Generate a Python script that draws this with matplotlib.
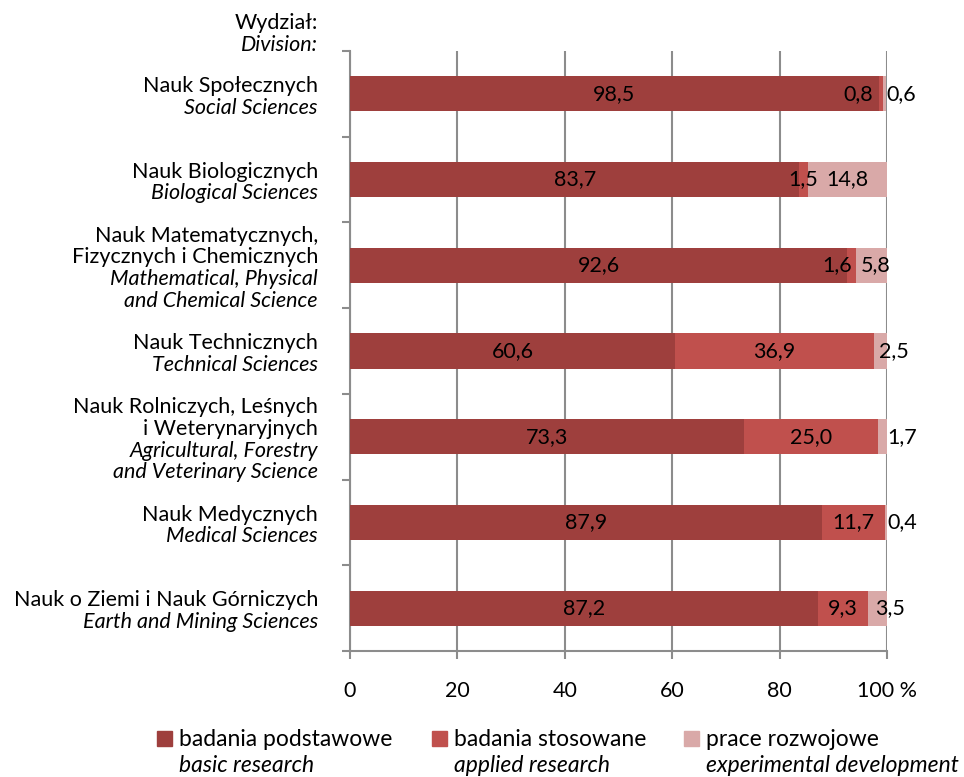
import matplotlib
matplotlib.use("Agg")
import matplotlib.pyplot as plt
from matplotlib.patches import Rectangle

plt.rcParams['font.family'] = ['Lato', 'DejaVu Sans']

# Divisions: Polish name lines, English name lines
divisions_pl = [
    ["Nauk Społecznych"],
    ["Nauk Biologicznych"],
    ["Nauk Matematycznych,", "Fizycznych i Chemicznych"],
    ["Nauk Technicznych"],
    ["Nauk Rolniczych, Leśnych", "i Weterynaryjnych"],
    ["Nauk Medycznych"],
    ["Nauk o Ziemi i Nauk Górniczych"],
]
divisions_en = [
    ["Social Sciences"],
    ["Biological Sciences"],
    ["Mathematical, Physical", "and Chemical Science"],
    ["Technical Sciences"],
    ["Agricultural, Forestry", "and Veterinary Science"],
    ["Medical Sciences"],
    ["Earth and Mining Sciences"],
]

basic = [98.5, 83.7, 92.6, 60.6, 73.3, 87.9, 87.2]
applied = [0.8, 1.5, 1.6, 36.9, 25.0, 11.7, 9.3]
development = [0.6, 14.8, 5.8, 2.5, 1.7, 0.4, 3.5]

series_pl = ["badania podstawowe", "badania stosowane", "prace rozwojowe"]
series_en = ["basic research", "applied research", "experimental development"]
colors = ["#9E3F3D", "#C0504D", "#D9A9A8"]

x_ticks = [0, 20, 40, 60, 80, 100]
x_ticklabels = ["0", "20", "40", "60", "80", "100 %"]

# label anchor overrides (percent) for segments too narrow to hold their value
label_x_override = {
    (0, 1): 94.6, (0, 2): 102.6,
    (2, 1): 90.7, (2, 2): 97.8,
    (3, 2): 101.2,
    (4, 2): 102.9,
    (5, 2): 102.9,
    (6, 2): 100.6,
}

FS = 15.5
FS_LEG = 16.5
W, H = 964, 777
fig = plt.figure(figsize=(W / 100, H / 100), dpi=100)
ax = fig.add_axes([350 / W, 1 - 651 / H, 537 / W, 600 / H])

grey = "#8C8C8C"
n = len(basic)
ypos = list(range(n))
lefts = [0.0] * n
series = [basic, applied, development]
for s, (vals, col) in enumerate(zip(series, colors)):
    ax.barh(ypos, vals, left=lefts, height=0.41, color=col, zorder=3)
    for i, v in enumerate(vals):
        xc = label_x_override.get((i, s), lefts[i] + v / 2)
        ax.text(xc, i, f"{v:.1f}".replace(".", ","), ha="center", va="center",
                fontsize=FS, color="black", zorder=4)
    lefts = [l + v for l, v in zip(lefts, vals)]

ax.set_xlim(0, 100)
ax.set_ylim(n - 0.5, -0.5)
ax.set_xticks(x_ticks)
ax.set_xticklabels(x_ticklabels, fontsize=FS)
ax.set_yticks([i - 0.5 for i in range(n + 1)])
ax.set_yticklabels([])
ax.tick_params(axis="both", direction="out", length=8 * 0.72, width=1.5, color=grey)
ax.tick_params(axis="x", pad=16)
ax.xaxis.grid(True, color=grey, linewidth=1.5, zorder=0)
ax.set_axisbelow(True)
for side in ["top", "right"]:
    ax.spines[side].set_visible(False)
for side in ["left", "bottom"]:
    ax.spines[side].set_color(grey)
    ax.spines[side].set_linewidth(1.5)

# category labels: Polish lines regular, English lines italic
line_h = 21.7
for i in range(n):
    lines = [(t, "normal") for t in divisions_pl[i]] + [(t, "italic") for t in divisions_en[i]]
    k = len(lines)
    for j, (t, style) in enumerate(lines):
        dy = ((k - 1) / 2 - j) * line_h - 3
        ax.annotate(t, xy=(0, i), xytext=(-32, dy), textcoords="offset pixels",
                    ha="right", va="center", fontsize=FS, style=style,
                    annotation_clip=False)

fig.text(318 / W, 1 - 23 / H, "Wydział:", ha="right", va="center", fontsize=FS)
fig.text(318 / W, 1 - 45 / H, "Division:", ha="right", va="center", fontsize=FS,
         style="italic")

# legend
leg_x = [157, 432, 684]
for x0, name_pl, name_en, col in zip(leg_x, series_pl, series_en, colors):
    fig.add_artist(Rectangle((x0 / W, 1 - 746 / H), 15 / W, 15 / H,
                             transform=fig.transFigure, color=col))
    fig.text((x0 + 22) / W, 1 - 739 / H, name_pl, ha="left", va="center", fontsize=FS_LEG)
    fig.text((x0 + 22) / W, 1 - 765 / H, name_en, ha="left", va="center", fontsize=FS_LEG,
             style="italic")

fig.savefig("out.png", dpi=100)
